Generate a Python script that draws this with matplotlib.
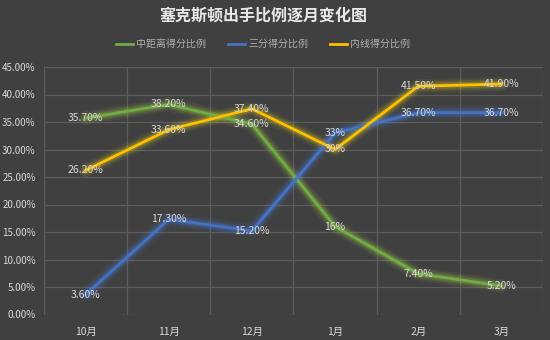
import numpy as np
import matplotlib
matplotlib.use("Agg")
import matplotlib.pyplot as plt
from matplotlib.ticker import FuncFormatter, MultipleLocator

plt.rcParams['font.family'] = ['Noto Sans CJK SC', 'DejaVu Sans']

months = ["10月", "11月", "12月", "1月", "2月", "3月"]
mid_range = [35.7, 38.2, 34.6, 16.0, 7.4, 5.2]
three_pt = [3.6, 17.3, 15.2, 33.0, 36.7, 36.7]
inside = [26.2, 33.6, 37.4, 30.0, 41.5, 41.9]

series = [
    ("中距离得分比例", mid_range, "#70ad47", "#a8d040"),
    ("三分得分比例", three_pt, "#4472c4", "#4a7ee0"),
    ("内线得分比例", inside, "#ffc000", "#e8d020"),
]

BG = "#404040"
GRID = "#5c5c5c"
TEXT = "#d9d9d9"


def label_text(v):
    return f"{v:.0f}%" if float(v).is_integer() else f"{v:.2f}%"


fig = plt.figure(figsize=(5.5, 3.4), dpi=100, facecolor=BG)
ax = fig.add_axes([44 / 550, 1 - 314.5 / 340, (543 - 44) / 550, (314.5 - 67) / 340])
ax.set_facecolor(BG)

x = np.arange(len(months))
for name, vals, color, glow in series:
    # soft glow underneath each line
    for lw, a in [(10, 0.07), (7, 0.12), (4.5, 0.22)]:
        ax.plot(x, vals, color=glow, lw=lw, alpha=a, solid_capstyle="round",
                solid_joinstyle="round", zorder=2)
    ax.plot(x, vals, color=color, lw=2.0, solid_capstyle="round",
            solid_joinstyle="round", zorder=3, label=name)

for name, vals, color, glow in series:
    for xi, v in zip(x, vals):
        ax.text(xi, v, label_text(v), color=TEXT, fontsize=7.5, ha="center", va="center", zorder=5)

ax.set_xlim(-0.5, len(months) - 0.5)
ax.set_ylim(0, 45)
ax.yaxis.set_major_locator(MultipleLocator(5))
ax.yaxis.set_major_formatter(FuncFormatter(lambda v, p: f"{v:.2f}%"))
ax.set_xticks(x)
ax.set_xticklabels(months)
ax.set_xticks(np.arange(-0.5, len(months), 1), minor=True)

ax.grid(True, axis="y", which="major", color=GRID, lw=0.9)
ax.grid(True, axis="x", which="minor", color=GRID, lw=0.9)
ax.tick_params(which="both", length=0, colors=TEXT, labelsize=7.5)
ax.tick_params(axis="x", pad=9)
ax.tick_params(axis="y", pad=6, labelsize=7)
for s in ax.spines.values():
    s.set_visible(False)
ax.set_axisbelow(True)

fig.text(263 / 550, 1 - 16 / 340, "塞克斯顿出手比例逐月变化图", color="#e8e8e8",
         fontsize=11.5, fontweight="bold", ha="center", va="center")

handles = [plt.Line2D([], [], color=c, lw=2) for _, _, c, _ in series]
leg = fig.legend(handles, [s[0] for s in series], loc="center", ncol=3,
                 bbox_to_anchor=(263 / 550, 1 - 44 / 340), frameon=False,
                 fontsize=7.2, labelcolor="#b0b0b0", handlelength=1.7,
                 handletextpad=0.3, columnspacing=2.2)

fig.savefig("out.png", dpi=100, facecolor=BG)
